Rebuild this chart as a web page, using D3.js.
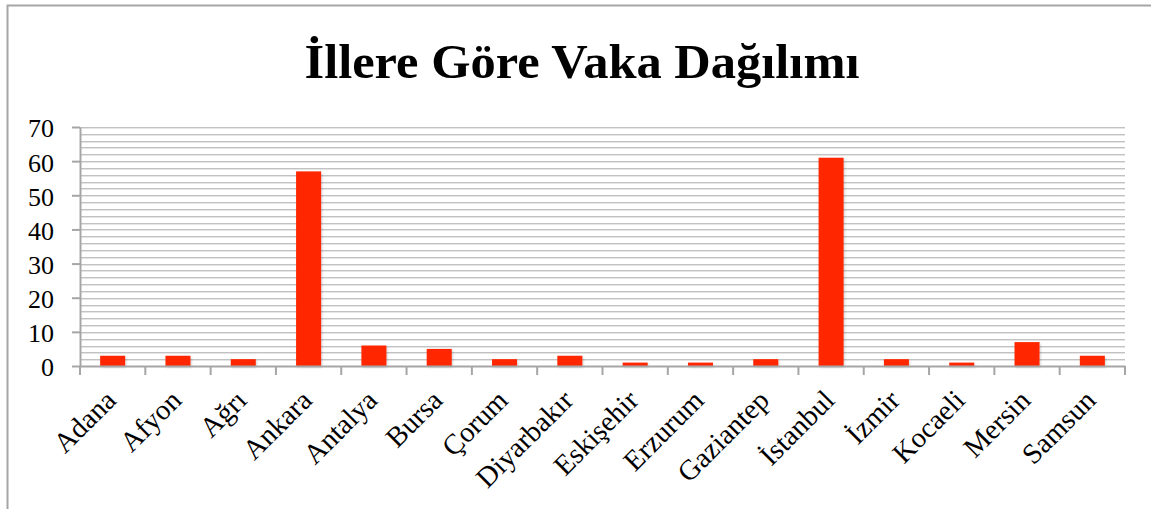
<!DOCTYPE html>
<html>
<head>
<meta charset="utf-8">
<script src="https://cdn.jsdelivr.net/npm/d3@7"></script>
<style>
  html, body { margin: 0; padding: 0; background: #fff; }
  svg { display: block; }
</style>
</head>
<body>
<div id="chart"></div>
<script>
const title = 'İllere Göre Vaka Dağılımı';
const cities = ['Adana', 'Afyon', 'Ağrı', 'Ankara', 'Antalya', 'Bursa', 'Çorum', 'Diyarbakır',
  'Eskişehir', 'Erzurum', 'Gaziantep', 'İstanbul', 'İzmir', 'Kocaeli', 'Mersin', 'Samsun'];
const cases = [3, 3, 2, 57, 6, 5, 2, 3, 1, 1, 2, 61, 2, 1, 7, 3];
const yTicks = [0, 10, 20, 30, 40, 50, 60, 70];

const width = 1151;
const height = 509;
const margin = { top: 127, right: 26, bottom: 143, left: 80 };
const labelFont = '"Liberation Serif", "Times New Roman", serif';

const svg = d3.select('#chart').append('svg')
  .attr('width', width)
  .attr('height', height);

// soft shadows under bars and grid lines
const defs = svg.append('defs');
const shadow = defs.append('filter').attr('id', 'shadow')
  .attr('x', '-20%').attr('y', '-20%').attr('width', '140%').attr('height', '140%');
shadow.append('feDropShadow')
  .attr('dx', 1).attr('dy', 1.5).attr('stdDeviation', 1)
  .attr('flood-color', '#000').attr('flood-opacity', 0.2);
const gridShadow = defs.append('filter').attr('id', 'gridShadow')
  .attr('x', '-5%').attr('y', '-5%').attr('width', '110%').attr('height', '110%');
gridShadow.append('feDropShadow')
  .attr('dx', 0).attr('dy', 1).attr('stdDeviation', 0.6)
  .attr('flood-color', '#000').attr('flood-opacity', 0.1);

// outer frame (runs off the right and bottom edges)
svg.append('path')
  .attr('d', `M7.5,${height + 2} V5.5 H${width + 2}`)
  .attr('fill', 'none')
  .attr('stroke', '#a6a6a6')
  .attr('stroke-width', 2);

svg.append('text')
  .attr('x', 582)
  .attr('y', 78)
  .attr('text-anchor', 'middle')
  .attr('font-family', labelFont)
  .attr('font-weight', 'bold')
  .attr('font-size', 49)
  .attr('textLength', 555)
  .attr('lengthAdjust', 'spacingAndGlyphs')
  .attr('fill', '#000')
  .text(title);

const x = d3.scaleBand()
  .domain(cities)
  .range([margin.left, width - margin.right]);

const y = d3.scaleLinear()
  .domain([0, 70])
  .range([height - margin.bottom, margin.top]);

// minor grid every 2
const grid = svg.append('g').attr('filter', 'url(#gridShadow)');
grid.selectAll('line')
  .data(d3.range(2, 71, 2))
  .join('line')
  .attr('x1', margin.left)
  .attr('x2', width - margin.right)
  .attr('y1', d => Math.round(y(d)) + 0.5)
  .attr('y2', d => Math.round(y(d)) + 0.5)
  .attr('stroke', '#c2c2c2')
  .attr('stroke-width', 1.2);

// bars
svg.append('g')
  .attr('filter', 'url(#shadow)')
  .selectAll('rect')
  .data(cities)
  .join('rect')
  .attr('x', d => x(d) + x.bandwidth() / 2 - 12.5)
  .attr('width', 25)
  .attr('y', (d, i) => y(cases[i]))
  .attr('height', (d, i) => y(0) - y(cases[i]))
  .attr('fill', '#ff2600');

// y axis
const yAxis = svg.append('g')
  .attr('transform', `translate(${margin.left},0)`)
  .call(d3.axisLeft(y).tickValues(yTicks).tickSize(8).tickPadding(18).tickSizeOuter(0));
yAxis.select('.domain').attr('stroke', '#a6a6a6').attr('stroke-width', 2);
yAxis.selectAll('.tick line').attr('stroke', '#a6a6a6').attr('stroke-width', 2);
yAxis.selectAll('.tick text')
  .attr('font-family', labelFont)
  .attr('font-size', 26)
  .attr('dy', '0.38em')
  .attr('fill', '#000');

// x axis
const xAxis = svg.append('g')
  .attr('transform', `translate(0,${y(0)})`)
  .call(d3.axisBottom(x).tickSize(0).tickFormat(''));
xAxis.select('.domain').attr('stroke', '#a6a6a6').attr('stroke-width', 2);

// tick marks at band edges
svg.append('g').selectAll('line')
  .data(d3.range(cities.length + 1))
  .join('line')
  .attr('x1', i => margin.left + i * x.step())
  .attr('x2', i => margin.left + i * x.step())
  .attr('y1', y(0))
  .attr('y2', y(0) + 9)
  .attr('stroke', '#a6a6a6')
  .attr('stroke-width', 2);

// rotated category labels
svg.append('g').selectAll('text')
  .data(cities)
  .join('text')
  .attr('transform', d => `translate(${x(d) + x.bandwidth() / 2 + 5},${y(0) + 36}) rotate(-45)`)
  .attr('text-anchor', 'end')
  .attr('font-family', labelFont)
  .attr('font-size', 28.5)
  .attr('fill', '#000')
  .text(d => d);
</script>
</body>
</html>
